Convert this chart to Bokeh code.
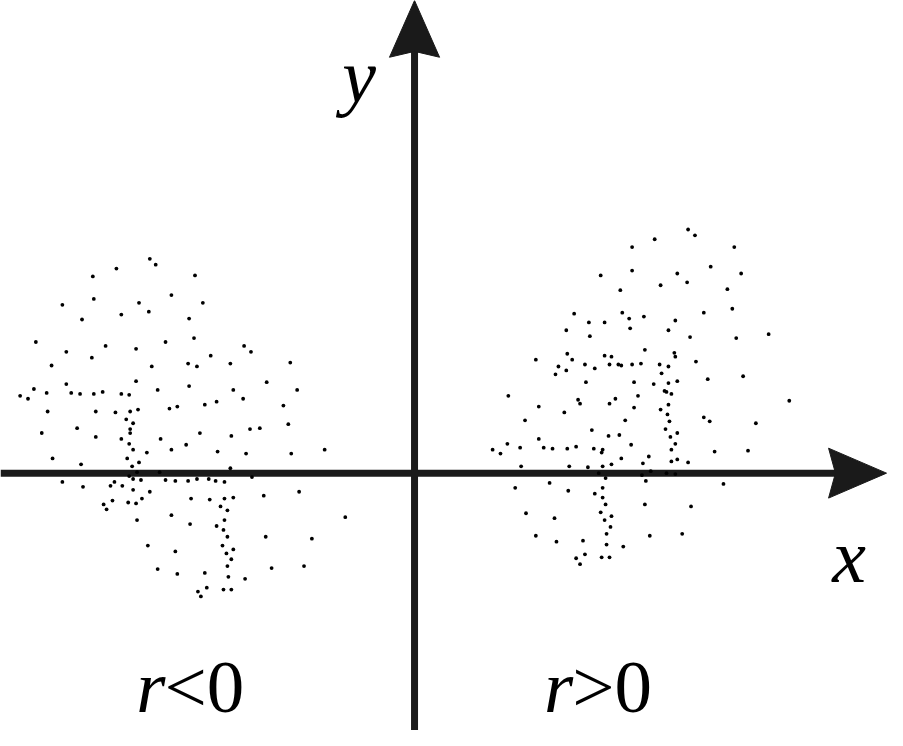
from bokeh.plotting import figure
from bokeh.models import Range1d
from bokeh.core.properties import value
from bokeh.embed import file_html
from bokeh.resources import INLINE

# ---- data: negative correlation cluster (r<0), left quadrant ----
neg_x = [-26.9, -26.3, -30.3, -32.7, -24.7, -32.6, -35.8, -28.0, -27.0, -29.8,
         -33.8, -38.5, -31.4, -25.3, -35.4, -28.3, -32.8, -36.9, -26.7, -28.3,
         -35.4, -38.7, -40.1, -39.3, -37.4, -34.9, -34.0, -32.6, -31.7, -29.8,
         -29.0, -26.1, -37.3, -32.4, -30.4, -28.9, -28.1, -24.9, -24.1, -29.3,
         -28.6, -22.3, -21.5, -22.9, -22.4, -17.3, -16.6, -20.7, -23.0, -22.1,
         -18.7, -12.6, -15.0, -22.9, -18.4, -11.9, -17.4, -20.1, -21.3, -13.3,
         -12.8, -34.3, -37.9, -28.9, -28.9, -32.4, -29.8, -25.8, -29.0, -23.2,
         -28.6, -27.2, -24.7, -36.8, -29.2, -28.0, -33.9, -28.7, -28.2, -25.9,
         -29.0, -28.6, -27.8, -25.3, -24.3, -35.8, -30.5, -30.9, -29.7, -33.7,
         -28.6, -26.9, -27.7, -30.7, -29.1, -28.3, -31.6, -31.3, -24.7, -28.2,
         -27.1, -24.3, -26.1, -24.1, -21.8, -18.6, -16.7, -15.7, -20.0, -17.1,
         -12.5, -9.1, -18.7, -16.5, -23.0, -22.1, -20.9, -20.2, -19.3, -11.7,
         -22.7, -20.8, -19.3, -18.4, -15.3, -19.7, -19.0, -7.0, -19.3, -22.8,
         -20.1, -19.4, -19.0, -15.1, -10.4, -19.5, -18.4, -19.1, -18.6, -19.0,
         -14.5, -11.2, -21.3, -18.9, -17.2, -21.1, -22.0, -19.4, -18.6, -21.7]
neg_y = [21.9, 21.3, 20.9, 20.1, 18.2, 17.8, 17.2, 17.4, 16.5, 16.2,
         15.7, 13.4, 13.0, 13.4, 12.4, 12.7, 11.8, 11.0, 10.9, 9.4,
         9.1, 8.6, 7.9, 7.6, 8.2, 8.2, 8.1, 8.1, 8.3, 8.1,
         8.0, 8.5, 6.3, 6.3, 6.2, 6.3, 6.5, 6.6, 6.8, 5.5,
         5.1, 20.2, 17.4, 15.8, 13.8, 13.0, 12.4, 12.0, 11.2, 10.9,
         11.2, 11.3, 9.3, 8.9, 8.5, 8.5, 7.6, 7.3, 7.0, 6.9,
         5.0, 4.6, 4.1, 4.5, 4.1, 3.7, 3.5, 3.5, 3.0, 2.9,
         2.4, 2.1, 2.4, 1.5, 1.5, 1.1, 0.9, 0.7, 0.1, 0.1,
         -0.3, -0.6, -0.7, -0.7, -0.8, -0.9, -0.9, -1.3, -1.3, -1.4,
         -1.7, -1.9, -2.6, -2.8, -3.0, -3.1, -3.2, -3.7, -4.3, -4.8,
         -7.4, -8.0, -9.8, -10.3, 4.1, 3.8, 4.5, 4.6, 2.2, 2.0,
         2.0, 2.4, 0.5, -0.4, -0.8, -0.6, -0.6, -0.8, -0.9, -1.9,
         -2.6, -2.7, -2.6, -2.5, -2.3, -3.4, -3.8, -4.5, -4.8, -5.2,
         -5.4, -5.8, -6.5, -6.5, -6.7, -7.4, -7.8, -8.2, -8.8, -9.5,
         -9.7, -9.5, -10.2, -10.6, -10.8, -11.7, -12.1, -11.9, -11.9, -12.6]

# ---- data: positive correlation cluster (r>0), right quadrant ----
pos_x = [22.2, 22.2, 19.0, 21.0, 16.3, 21.2, 21.9, 17.8, 19.4, 22.0,
         15.5, 17.9, 15.6, 19.4, 20.1, 12.4, 16.1, 14.7, 17.4, 19.9,
         20.8, 21.1, 22.2, 14.4, 15.5, 18.4, 17.5, 22.4, 9.6, 22.8,
         27.9, 28.6, 24.5, 32.6, 30.2, 26.8, 33.3, 27.8, 25.1, 31.9,
         32.4, 29.5, 23.4, 26.6, 25.9, 28.1, 32.8, 36.1, 23.5, 26.5,
         26.6, 23.1, 25.0, 25.9, 28.7, 25.2, 24.4, 25.9, 26.8, 29.9,
         33.5, 25.5, 25.7, 26.2, 16.7, 16.9, 20.5, 19.9, 12.7, 15.3,
         22.4, 11.3, 21.5, 18.1, 19.8, 20.9, 12.7, 9.5, 22.1, 8.0,
         8.8, 10.8, 13.2, 14.1, 15.6, 16.5, 18.3, 19.2, 19.1, 21.1,
         20.1, 10.9, 15.8, 17.7, 19.2, 18.8, 19.5, 10.3, 13.8, 15.7,
         19.2, 18.4, 19.2, 19.5, 11.4, 19.0, 20.1, 14.3, 19.4, 20.0,
         19.6, 12.4, 17.2, 14.5, 19.6, 21.3, 17.4, 16.5, 19.1, 19.9,
         16.9, 38.2, 25.1, 25.9, 25.8, 29.5, 30.1, 34.8, 26.0, 25.6,
         26.8, 26.1, 26.6, 26.2, 30.6, 34.0, 23.9, 23.3, 26.2, 26.8,
         27.9, 24.1, 23.2, 25.7, 26.6, 23.6, 31.5, 23.5, 28.2, 24.0,
         27.3]
pos_y = [23.1, 20.7, 20.2, 18.7, 16.3, 16.4, 15.8, 15.4, 15.4, 14.8,
         14.6, 14.0, 12.2, 12.0, 11.9, 11.6, 11.6, 10.9, 11.1, 11.1,
         11.1, 11.0, 11.1, 10.1, 10.5, 10.7, 9.3, 9.3, 7.9, 7.9,
         24.9, 24.3, 23.9, 23.1, 21.1, 20.4, 20.4, 19.5, 19.2, 18.8,
         16.8, 16.4, 16.0, 15.6, 14.6, 13.9, 13.8, 14.2, 12.6, 12.3,
         11.9, 11.2, 11.1, 10.9, 11.4, 10.2, 9.1, 9.2, 9.4, 9.6,
         9.9, 8.4, 8.3, 8.1, 7.5, 7.1, 7.6, 7.1, 6.8, 6.2,
         6.7, 5.4, 5.4, 4.4, 3.8, 3.9, 3.5, 3.0, 2.9, 2.4,
         2.0, 2.6, 2.6, 2.5, 2.5, 2.7, 2.5, 2.4, 2.1, 1.5,
         0.9, 0.7, 0.7, 0.6, 0.7, 0.0, -0.5, -1.5, -1.0, -1.8,
         -1.5, -2.1, -2.5, -3.2, -4.1, -4.0, -4.4, -4.6, -4.8, -5.5,
         -6.2, -6.4, -6.9, -7.0, -7.3, -7.5, -8.3, -8.7, -8.6, -8.6,
         -9.3, 7.4, 6.5, 7.0, 6.0, 5.7, 5.3, 5.1, 5.3, 4.5,
         4.1, 3.7, 3.0, 2.4, 2.2, 2.3, 1.7, 1.0, 1.2, 1.4,
         1.1, 0.2, -0.2, 0.0, -0.1, -0.8, -1.1, -3.2, -3.4, -6.4,
         -6.2]

axis_labels = ["x", "y"]
panel_labels_r = ["r", "r"]
panel_labels_rel = ["<0", ">0"]

X_MIN, X_MAX = -42.1, 48.2
Y_MIN, Y_MAX = -26.3, 48.3
AXIS_COLOR = "#1a1a1a"

p = figure(width=887, height=730, x_range=Range1d(X_MIN, X_MAX), y_range=Range1d(Y_MIN, Y_MAX),
           output_backend="svg", toolbar_location=None, min_border=0,
           x_axis_location=None, y_axis_location=None)
p.grid.visible = False
p.outline_line_color = None
p.background_fill_color = "white"
p.border_fill_color = "white"

# axes with arrow heads
p.segment(x0=[X_MIN, 0.05], y0=[0, Y_MIN], x1=[43.0, 0.05], y1=[0, 43.2],
          line_width=7, line_color=AXIS_COLOR)
p.patches(xs=[[48.1, 42.2, 42.9, 42.2], [0.05, 2.6, 0.05, -2.5]],
          ys=[[0, 2.55, 0, -2.55], [48.3, 42.5, 43.1, 42.5]],
          fill_color=AXIS_COLOR, line_color=AXIS_COLOR, line_width=1)

# scatter points
p.scatter(neg_x, neg_y, marker="circle", size=3.8, fill_color="black", line_color=None)
p.scatter(pos_x, pos_y, marker="circle", size=3.8, fill_color="black", line_color=None)

serif = value("Liberation Serif")
# axis names
p.text(x=[44.3, -5.6], y=[-8.5, 40.6], text=axis_labels, text_font=serif,
       text_font_style="italic", text_font_size="76px", text_align="center",
       text_baseline="alphabetic", text_color="black")

# panel labels: italic r followed by upright relation
p.text(x=[-25.3, 16.2], y=[-21.8, -21.8], text=panel_labels_r, text_font=serif,
       text_font_style="italic", text_font_size="75px", text_align="right",
       text_baseline="alphabetic", text_color="black")
p.text(x=[-25.4, 16.1], y=[-21.8, -21.8], text=panel_labels_rel, text_font=serif,
       text_font_style="normal", text_font_size="75px", text_align="left",
       text_baseline="alphabetic", text_color="black")

open("out.html", "w").write(file_html(p, INLINE))
